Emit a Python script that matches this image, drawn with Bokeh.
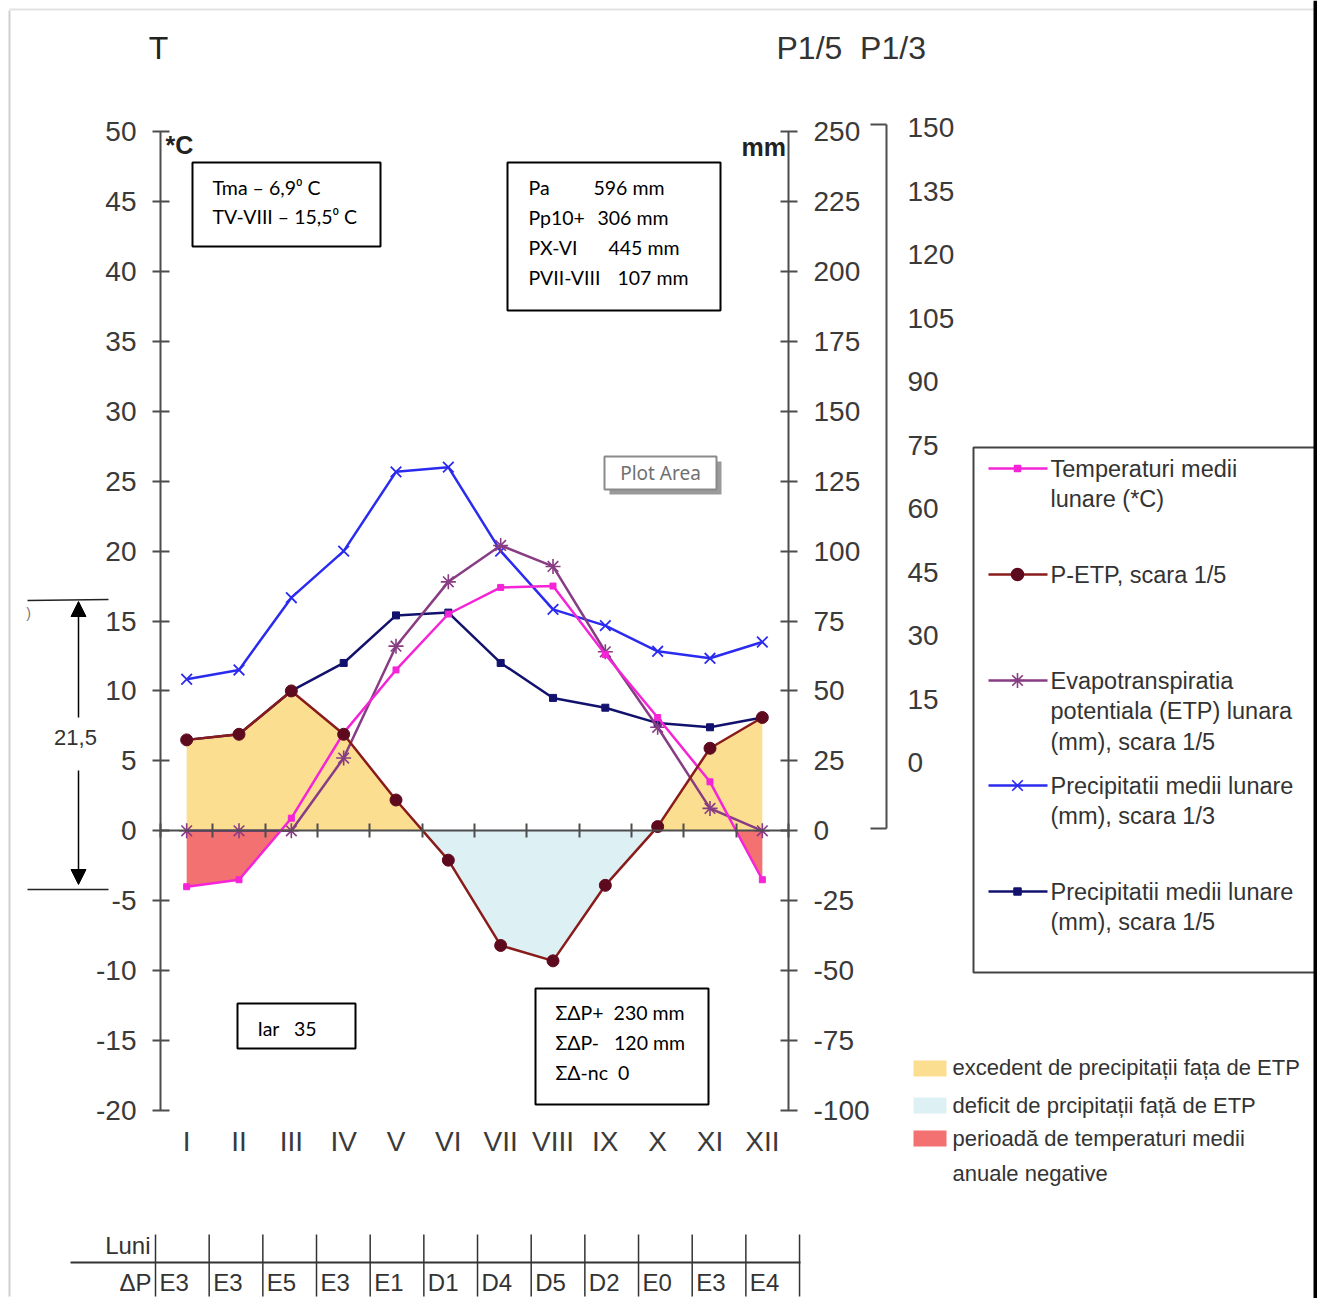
import numpy as np
from bokeh.plotting import figure
from bokeh.models import (Range1d, LinearAxis, FixedTicker, Label, BoxAnnotation,
                          Arrow, NormalHead)
from bokeh.embed import file_html
from bokeh.resources import INLINE

# ---------------- data ----------------
months = ["I", "II", "III", "IV", "V", "VI", "VII", "VIII", "IX", "X", "XI", "XII"]
temp_c = [-4.0, -3.5, 0.9, 7.0, 11.5, 15.5, 17.4, 17.5, 12.6, 8.1, 3.5, -3.5]
precip_mm = [32.5, 34.5, 50.0, 60.0, 77.0, 78.0, 60.0, 47.5, 44.0, 38.5, 37.0, 40.5]
etp_mm = [0.0, 0.0, 0.0, 26.0, 66.0, 89.0, 102.0, 94.5, 64.0, 37.0, 8.0, 0.0]
p_etp_mm = [32.5, 34.5, 50.0, 34.5, 11.0, -10.5, -41.0, -46.5, -19.5, 1.5, 29.5, 40.5]
dp_codes = ["E3", "E3", "E5", "E3", "E1", "D1", "D4", "D5", "D2", "E0", "E3", "E4"]
t_ticks = list(range(-20, 55, 5))
mm_ticks = list(range(-100, 275, 25))
p3_ticks = list(range(0, 165, 15))

# ---------------- geometry helpers (reference pixel -> data) ----------------
W, H, OFF = 1317, 1298, 0
AX_L, AX_R, AX_T, AX_B = 160.0, 788.0, 131.0, 1110.0
PXM = (AX_R - AX_L) / 12.0
PXT = (AX_B - AX_T) / 70.0
P3_ZERO, P3PX = 762.0, (762.0 - 127.0) / 150.0
NB = "\u00a0"


def dx(px):
    return 0.5 + (px - AX_L) / PXM


def dy(py):
    return -20.0 + (AX_B - py) / PXT


x_range = Range1d(dx(OFF), dx(OFF + W))
y_range = Range1d(dy(OFF + H), dy(OFF))

ARIAL = "Liberation Sans"
BOXF = "Lato"

p = figure(width=W, height=H, x_range=x_range, y_range=y_range,
           x_axis_location=None, y_axis_location=None,
           output_backend="svg", toolbar_location=None, min_border=0)
p.outline_line_color = None
p.background_fill_color = "white"
p.border_fill_color = "white"
for g in p.grid:
    g.visible = False

p.extra_y_ranges = {
    "mm": Range1d(5 * y_range.start, 5 * y_range.end),
    "p13": Range1d(3 * y_range.start, 3 * y_range.end),
    "p3": Range1d((P3_ZERO - (OFF + H)) / P3PX, (P3_ZERO - OFF) / P3PX),
}


# ---------------- fills ----------------
def with_crossings(x, y):
    xo, yo = [x[0]], [y[0]]
    for i in range(1, len(x)):
        y1, y2 = y[i - 1], y[i]
        if y1 * y2 < 0:
            xc = x[i - 1] + (0 - y1) * (x[i] - x[i - 1]) / (y2 - y1)
            xo.append(xc)
            yo.append(0.0)
        xo.append(x[i])
        yo.append(y[i])
    return np.array(xo), np.array(yo)


xs = np.arange(1, 13, dtype=float)
pex, pey = with_crossings(xs, np.array(p_etp_mm))
tx, ty = with_crossings(xs, np.array(temp_c))

YELLOW, LBLUE, RED = "#FCDE90", "#DDF1F5", "#F47171"
p.varea(x=pex, y1=0, y2=np.maximum(pey, 0), y_range_name="mm", fill_color=YELLOW)
p.varea(x=pex, y1=np.minimum(pey, 0), y2=0, y_range_name="mm", fill_color=LBLUE)
p.varea(x=tx, y1=np.minimum(ty, 0), y2=0, fill_color=RED)

# ---------------- series ----------------
C_TEMP, C_PETP, C_ETP, C_P3, C_P5 = "#F524D6", "#8A1B1B", "#873C84", "#2B2BEF", "#12126E"
C_DOT = "#5E0A1E"
LW = 2.5
p.line(xs, precip_mm, y_range_name="p13", line_color=C_P3, line_width=LW)
p.scatter(xs, precip_mm, y_range_name="p13", marker="x", size=15, line_color=C_P3, line_width=1.8)
p.line(xs, precip_mm, y_range_name="mm", line_color=C_P5, line_width=LW)
p.scatter(xs, precip_mm, y_range_name="mm", marker="square", size=7, fill_color=C_P5, line_color=C_P5)
p.line(xs, etp_mm, y_range_name="mm", line_color=C_ETP, line_width=LW)
p.scatter(xs, etp_mm, y_range_name="mm", marker="asterisk", size=15, line_color=C_ETP, line_width=1.6)
p.line(xs, temp_c, line_color=C_TEMP, line_width=LW)
p.scatter(xs, temp_c, marker="square", size=6, fill_color=C_TEMP, line_color=C_TEMP)
p.line(xs, p_etp_mm, y_range_name="mm", line_color=C_PETP, line_width=LW)
p.scatter(xs, p_etp_mm, y_range_name="mm", marker="circle", size=12, fill_color=C_DOT, line_color=C_DOT)

# ---------------- axes ----------------
AXC, TXC = "#4d4d4d", "#3a3a3a"


def style_axis(ax, ticks=None, size=28):
    ax.axis_line_color = AXC
    ax.axis_line_width = 2
    ax.major_tick_line_color = AXC
    ax.major_tick_line_width = 2
    ax.minor_tick_line_color = None
    ax.major_label_text_font = ARIAL
    ax.major_label_text_font_size = f"{size}px"
    ax.major_label_text_color = TXC
    if ticks is not None:
        ax.major_label_overrides = {t: str(t) for t in ticks}


ax_t = LinearAxis(fixed_location=0.5, ticker=FixedTicker(ticks=t_ticks), bounds=(-20, 50))
style_axis(ax_t, t_ticks)
ax_t.major_tick_in, ax_t.major_tick_out, ax_t.major_label_standoff = 9, 8, 16
p.add_layout(ax_t, "left")

ax_mm = LinearAxis(y_range_name="mm", fixed_location=12.5, ticker=FixedTicker(ticks=mm_ticks), bounds=(-100, 250))
style_axis(ax_mm, mm_ticks)
ax_mm.major_tick_in, ax_mm.major_tick_out, ax_mm.major_label_standoff = 8, 9, 16
p.add_layout(ax_mm, "right")

ax_p3 = LinearAxis(y_range_name="p3", fixed_location=dx(886),
                   ticker=FixedTicker(ticks=p3_ticks, minor_ticks=[-15.6, 150.7]), bounds=(-15.7, 150.8))
style_axis(ax_p3, p3_ticks)
ax_p3.major_tick_in, ax_p3.major_tick_out, ax_p3.major_label_standoff = 0, 0, 21
ax_p3.minor_tick_line_color = AXC
ax_p3.minor_tick_line_width = 2
ax_p3.minor_tick_in, ax_p3.minor_tick_out = 16, 0
p.add_layout(ax_p3, "right")

zero_ticks = [0.5 + k for k in range(13)]
ax_zero = LinearAxis(fixed_location=0, ticker=FixedTicker(ticks=zero_ticks), bounds=(0.5, 12.5))
style_axis(ax_zero)
ax_zero.major_tick_in, ax_zero.major_tick_out = 7, 7
ax_zero.major_label_overrides = {t: "" for t in zero_ticks}
p.add_layout(ax_zero, "below")

ax_m = LinearAxis(fixed_location=-20, ticker=FixedTicker(ticks=list(range(1, 13))), bounds=(0.5, 12.5))
style_axis(ax_m)
ax_m.axis_line_color = None
ax_m.major_tick_line_color = None
ax_m.major_tick_in, ax_m.major_tick_out, ax_m.major_label_standoff = 0, 0, 15
ax_m.major_label_overrides = {i + 1: m for i, m in enumerate(months)}
p.add_layout(ax_m, "below")


# ---------------- annotation helpers ----------------
def lab(text, px, py, size, align="left", color="#333333", font=ARIAL, style="normal"):
    p.add_layout(Label(x=dx(px), y=dy(py), text=text, text_font=font, text_font_size=f"{size}px",
                       text_align=align, text_baseline="middle", text_color=color, text_font_style=style))


def box(l, t, r, b, fill="white", line="black", lw=2):
    p.add_layout(BoxAnnotation(left=dx(l), right=dx(r), top=dy(t), bottom=dy(b),
                               fill_color=fill, fill_alpha=1.0, line_color=line, line_alpha=1.0,
                               line_width=lw))


def seg(x0, y0, x1, y1, color="#333333", lw=2):
    p.segment(x0=[dx(x0)], y0=[dy(y0)], x1=[dx(x1)], y1=[dy(y1)], line_color=color, line_width=lw)


# picture frame
seg(9, 10, 9, 1296, color="#cfcfcf", lw=2)
seg(9, 9, 1313, 9, color="#e2e2e2", lw=2)

# headers
lab("T", 158, 47, 32, align="center", color="#222222")
lab("P1/5" + NB + NB + "P1/3", 776, 47, 32, color="#333333")
lab("*C", 165, 144, 25, color="#222222", style="bold")
lab("mm", 741, 146, 25, color="#222222", style="bold")

# info boxes
BS = 19.5
box(192, 162, 380, 246)
lab("Tma – 6,9⁰ C", 212, 187, BS, color="black", font=BOXF)
lab("TV-VIII – 15,5⁰ C", 212, 216, BS, color="black", font=BOXF)

box(507, 162, 720, 310)
for name, val, vx, yy in [("Pa", "596 mm", 593, 187), ("Pp10+", "306 mm", 597, 217),
                          ("PX-VI", "445 mm", 608, 247), ("PVII-VIII", "107 mm", 617, 277)]:
    lab(name, 528, yy, BS, color="black", font=BOXF)
    lab(val, vx, yy, BS, color="black", font=BOXF)

box(237, 1003, 355, 1048)
lab("Iar" + NB * 3 + "35", 257, 1028, BS, color="black", font=BOXF)

box(535, 988, 708, 1104)
lab("ΣΔP+" + NB * 2 + "230 mm", 555, 1012, BS, color="black", font=BOXF)
lab("ΣΔP-" + NB * 3 + "120 mm", 555, 1042, BS, color="black", font=BOXF)
lab("ΣΔ-nc" + NB * 2 + "0", 555, 1072, BS, color="black", font=BOXF)

# "Plot Area" tag
box(609, 461, 721, 494, fill="#9a9a9a", line="#9a9a9a", lw=0)
box(604, 456, 716, 489, fill="white", line="#8a8a8a", lw=2)
lab("Plot Area", 660, 472, 19, align="center", color="#707070", font="Noto Sans")

# amplitude marker on the left
seg(27, 600, 108, 599, color="#222222", lw=1.5)
seg(27, 889, 108, 889, color="#222222", lw=1.5)
p.add_layout(Arrow(end=NormalHead(size=15, fill_color="black", line_color="black"),
                   x_start=dx(78), y_start=dy(717), x_end=dx(78), y_end=dy(601),
                   line_color="black", line_width=1.5))
p.add_layout(Arrow(end=NormalHead(size=15, fill_color="black", line_color="black"),
                   x_start=dx(78), y_start=dy(770), x_end=dx(78), y_end=dy(884),
                   line_color="black", line_width=1.5))
lab("21,5", 75, 737, 22, align="center", color="#333333")
lab(")", 28, 612, 14, align="center", color="#777777")

# series legend (frame drawn as a glyph so the samples sit on top)
p.quad(left=[dx(973)], right=[dx(1340)], top=[dy(447)], bottom=[dy(972)],
       fill_color="white", line_color="#444444", line_width=2)
leg = [
    (468, C_TEMP, "square", 6, ["Temperaturi medii", "lunare (*C)"]),
    (574, C_PETP, "circle", 12, ["P-ETP, scara 1/5"]),
    (680, C_ETP, "asterisk", 15, ["Evapotranspiratia", "potentiala (ETP) lunara", "(mm), scara 1/5"]),
    (785, C_P3, "x", 15, ["Precipitatii medii lunare", "(mm), scara 1/3"]),
    (891, C_P5, "square", 7, ["Precipitatii medii lunare", "(mm), scara 1/5"]),
]
for yy, col, mk, sz, lines in leg:
    p.line([dx(988), dx(1047)], [dy(yy), dy(yy)], line_color=col, line_width=LW)
    mcol = C_DOT if mk == "circle" else col
    p.scatter([dx(1017)], [dy(yy)], marker=mk, size=sz, fill_color=mcol, line_color=mcol, line_width=1.6)
    for k, t in enumerate(lines):
        lab(t, 1050, yy + 30.5 * k, 23.5, color="#333333")

# screenshot edge bar on the right
box(1313, 0, 1330, 1320, fill="black", line="black", lw=0)

# area legend
for yy, col in [(1068, YELLOW), (1105, LBLUE), (1138, RED)]:
    box(913, yy - 8, 946, yy + 8, fill=col, line=None, lw=0)
lab("excedent de precipitații fața de ETP", 952, 1067, 22, color="#333333")
lab("deficit de prcipitații față de ETP", 952, 1105, 22, color="#333333")
lab("perioadă de temperaturi medii", 952, 1138, 22, color="#333333")
lab("anuale negative", 952, 1173, 22, color="#333333")

# bottom table
seg(70, 1262, 800, 1262, color="#333333", lw=2)
col_x = [155 + 53.67 * k for k in range(13)]
for cx in col_x:
    seg(cx, 1234, cx, 1296, color="#333333", lw=1.5)
lab("Luni", 150, 1245, 24, align="right", color="#333333")
lab("ΔP", 151, 1282, 24, align="right", color="#333333")
for cx, code in zip(col_x, dp_codes):
    lab(code, cx + 4, 1282, 24, color="#333333")

open("out.html", "w").write(file_html(p, INLINE))
